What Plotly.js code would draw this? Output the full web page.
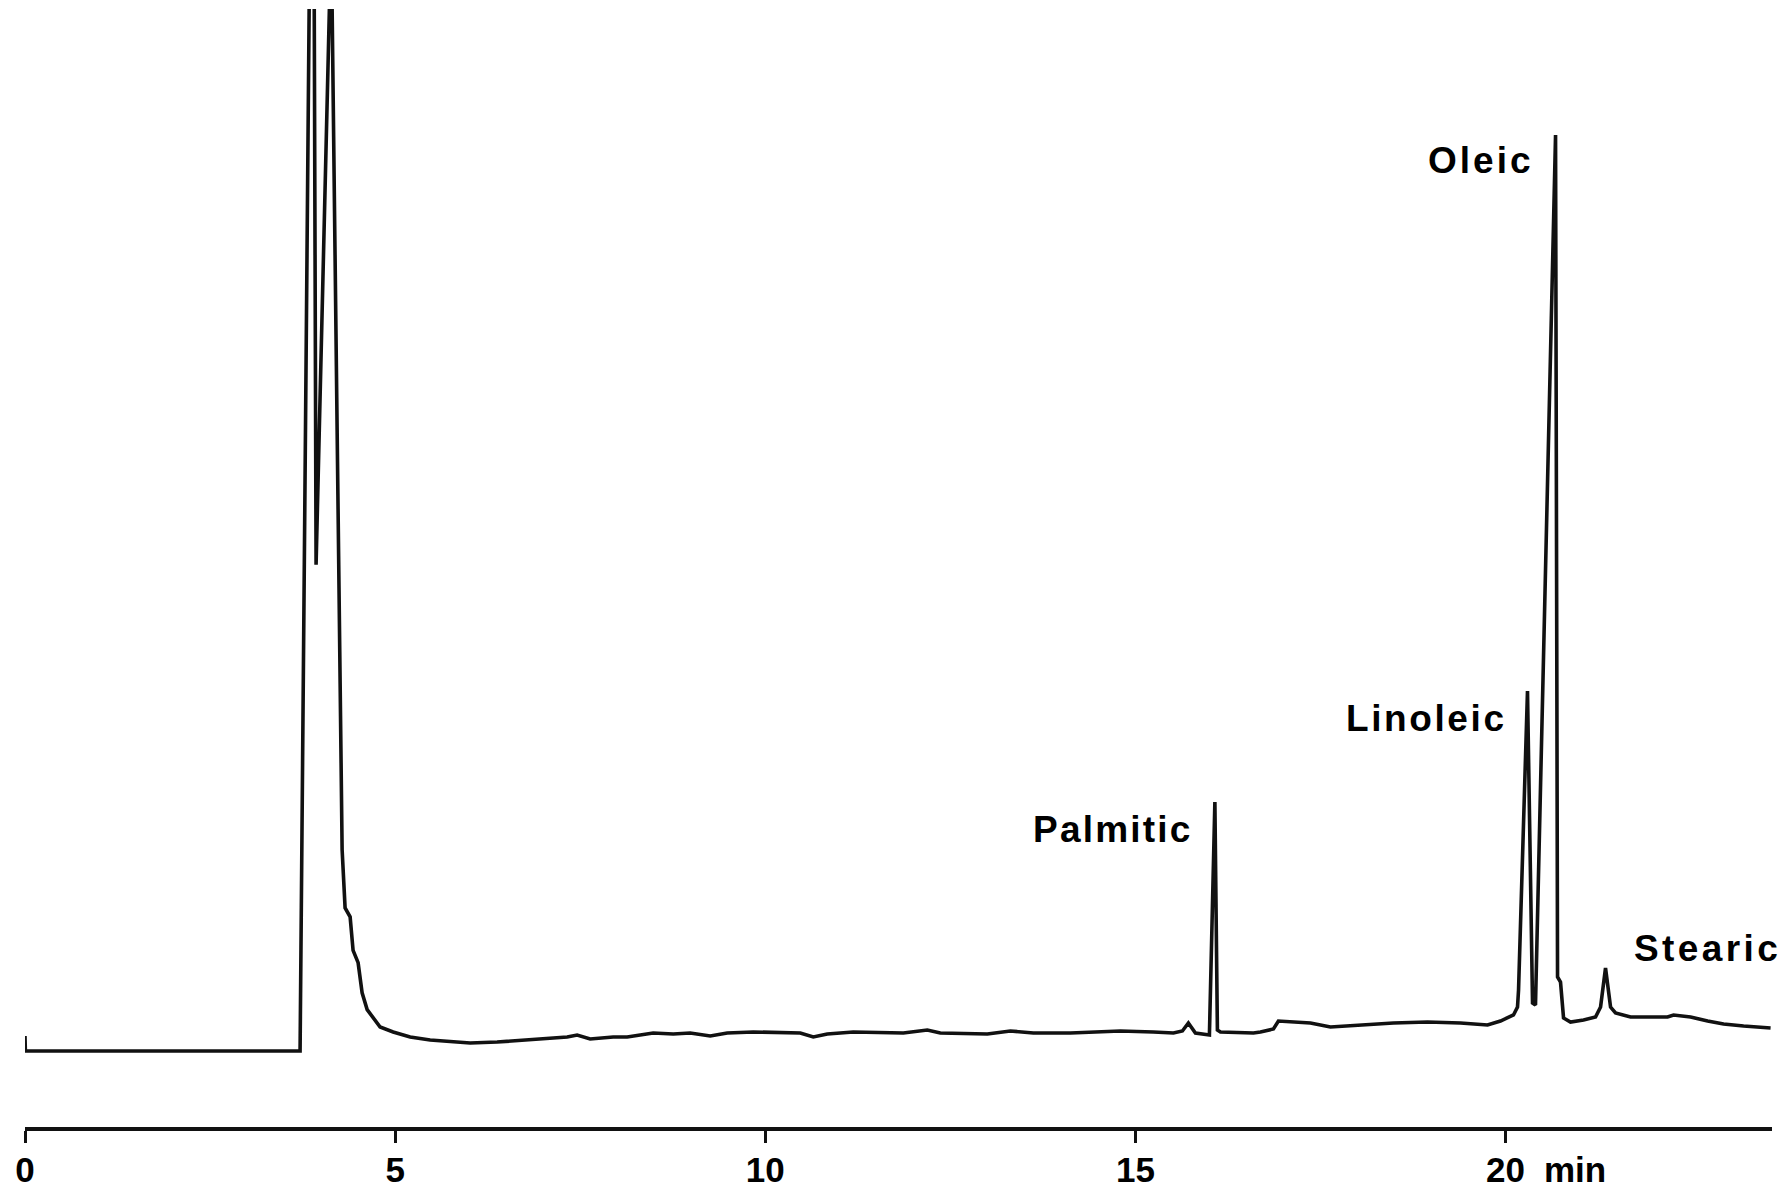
<!DOCTYPE html>
<html>
<head>
<meta charset="utf-8">
<script src="https://cdn.plot.ly/plotly-3.0.1.min.js"></script>
<style>
  html, body { margin: 0; padding: 0; background: #ffffff; }
  #chart { width: 1789px; height: 1190px; }
</style>
</head>
<body>
<div id="chart"></div>
<script>
// Retention time (min)
const timeMin = [0, 0.005, 3.716, 3.845, 3.905, 3.932, 4.13, 4.14, 4.284, 4.324,
  4.392, 4.432, 4.500, 4.554, 4.622, 4.797, 4.973, 5.203, 5.473, 6.014,
  6.378, 6.730, 7.054, 7.324, 7.459, 7.635, 7.946, 8.135, 8.486, 8.757,
  8.986, 9.257, 9.486, 9.838, 10.473, 10.649, 10.838, 11.189, 11.865, 12.189,
  12.365, 13.000, 13.311, 13.622, 14.122, 14.797, 15.243, 15.514, 15.635, 15.716,
  15.811, 15.973, 16.000, 16.074, 16.108, 16.149, 16.595, 16.689, 16.865, 16.932,
  17.135, 17.365, 17.635, 18.041, 18.486, 18.946, 19.392, 19.757, 19.932, 20.108,
  20.162, 20.176, 20.297, 20.365, 20.405, 20.676, 20.703, 20.743, 20.784, 20.878,
  21.054, 21.216, 21.284, 21.351, 21.419, 21.486, 21.689, 21.959, 22.189, 22.270,
  22.500, 22.730, 22.946, 23.216, 23.405, 23.581];

// Detector response (relative units, full scale = 100; solvent peaks run off scale)
const response = [8.14, 6.80, 6.80, 105, 105, 50.3, 105, 105, 24.8, 19.6,
  18.8, 15.8, 14.7, 12.0, 10.5, 8.94, 8.50, 8.05, 7.78, 7.51,
  7.60, 7.78, 7.87, 8.05, 8.23, 7.87, 8.05, 8.05, 8.41, 8.32,
  8.41, 8.14, 8.41, 8.50, 8.41, 8.05, 8.32, 8.50, 8.41, 8.68,
  8.41, 8.32, 8.59, 8.41, 8.41, 8.59, 8.50, 8.41, 8.59, 9.30,
  8.41, 8.32, 8.23, 29.07, 8.68, 8.50, 8.41, 8.50, 8.77, 9.48,
  9.39, 9.30, 8.94, 9.12, 9.30, 9.39, 9.30, 9.12, 9.48, 10.02,
  10.73, 12.25, 39.0, 11.09, 10.91, 88.73, 13.42, 12.97, 9.75, 9.39,
  9.57, 9.84, 10.73, 14.22, 10.73, 10.20, 9.84, 9.84, 9.84, 10.02,
  9.84, 9.48, 9.21, 9.03, 8.94, 8.86];

// Peak labels
const peakNames = ["Palmitic", "Linoleic", "Oleic", "Stearic"];
const peakTimes = [16.074, 20.297, 20.676, 21.351];

// Axis ticks
const tickValues = [0, 5, 10, 15, 20];
const tickLabels = ["0", "5", "10", "15", "20"];
const axisUnit = "min";

const fam = "Liberation Sans, Arial, Helvetica, sans-serif";
const labelFont = { family: fam, size: 37, color: "#000", weight: "bold" };
const tickFont = { family: fam, size: 35, color: "#000", weight: "bold" };

function peakHeight(t) {
  let best = 0, bd = Infinity;
  for (let i = 0; i < timeMin.length; i++) {
    const d = Math.abs(timeMin[i] - t);
    if (d < bd) { bd = d; best = i; }
  }
  return response[best];
}

// label placement styles (offsets in px relative to the peak apex)
const labelStyle = {
  "Palmitic": { xanchor: "right", xshift: -20, yshift: -27, spacing: 2.2 },
  "Linoleic": { xanchor: "right", xshift: -18, yshift: -28, spacing: 2.6 },
  "Oleic":    { xanchor: "right", xshift: -20, yshift: -25, spacing: 3.0 },
  "Stearic":  { xanchor: "left",  xshift: 26,  yshift: 20,  spacing: 3.4 }
};

const annotations = peakNames.map((name, i) => ({
  x: peakTimes[i], y: peakHeight(peakTimes[i]), xref: "x", yref: "y",
  text: '<span style="letter-spacing:' + labelStyle[name].spacing + 'px">' + name + '</span>',
  showarrow: false,
  xanchor: labelStyle[name].xanchor, yanchor: "middle",
  xshift: labelStyle[name].xshift, yshift: labelStyle[name].yshift,
  font: labelFont
}));

annotations.push({
  x: tickValues[tickValues.length - 1], y: 0, xref: "x", yref: "paper",
  text: axisUnit, showarrow: false, xanchor: "left", yanchor: "middle",
  xshift: 36, yshift: -42, font: tickFont
});

const trace = {
  x: timeMin, y: response, type: "scatter", mode: "lines",
  line: { color: "#111", width: 3.6, shape: "linear" },
  hoverinfo: "skip"
};

const layout = {
  width: 1789, height: 1190,
  margin: { l: 25, r: 17, t: 9, b: 63, pad: 0 },
  paper_bgcolor: "#ffffff", plot_bgcolor: "#ffffff",
  showlegend: false,
  xaxis: {
    range: [0, 23.6], showgrid: false, zeroline: false,
    showline: true, linecolor: "#111", linewidth: 3.5,
    ticks: "outside", ticklen: 12, tickwidth: 3, tickcolor: "#111",
    tickvals: tickValues, ticktext: tickLabels, tickfont: tickFont,
    ticklabelstandoff: -3,
    fixedrange: true
  },
  yaxis: {
    range: [0, 100], visible: false, showgrid: false, zeroline: false,
    fixedrange: true
  },
  annotations: annotations
};

Plotly.newPlot("chart", [trace], layout, { displayModeBar: false, staticPlot: true });
</script>
</body>
</html>
